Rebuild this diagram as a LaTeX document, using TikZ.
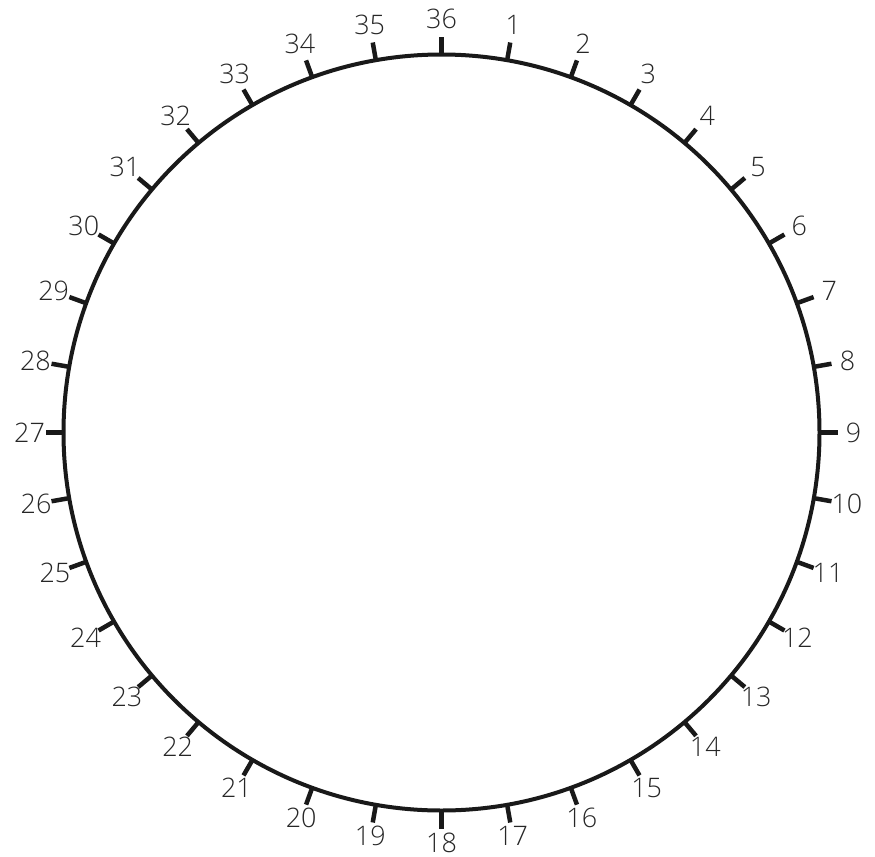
\documentclass[tikz,border=0pt]{standalone}
\usepackage{fontspec}
\setmainfont{Open Sans Light}
\usetikzlibrary{calc}
\begin{document}
\begin{tikzpicture}[x=1bp,y=-1bp,
  rim/.style={line width=4bp, draw=black!90},
  tickline/.style={line width=4.5bp, draw=black!90},
  numlabel/.style={font=\fontsize{27}{27}\selectfont, text=black!85, inner sep=0pt}]
\useasboundingbox (0,0) rectangle (875,857);
\coordinate (c) at (441.5,432.5);
\draw[rim] (c) circle[radius=378];
\foreach \i in {1,...,36}{
  \pgfmathsetmacro{\ang}{90-10*\i}
  \pgfmathsetmacro{\lr}{412+2*sin(\ang)}
  \coordinate (t\i a) at ($(c)+({cos(\ang)*378},{-sin(\ang)*378})$);
  \coordinate (t\i b) at ($(c)+({cos(\ang)*396},{-sin(\ang)*396})$);
  \draw[tickline] (t\i a) -- (t\i b);
  \node[numlabel] (n\i) at ($(c)+({cos(\ang)*\lr},{-sin(\ang)*\lr})$) {\i};
}
\end{tikzpicture}
\end{document}
